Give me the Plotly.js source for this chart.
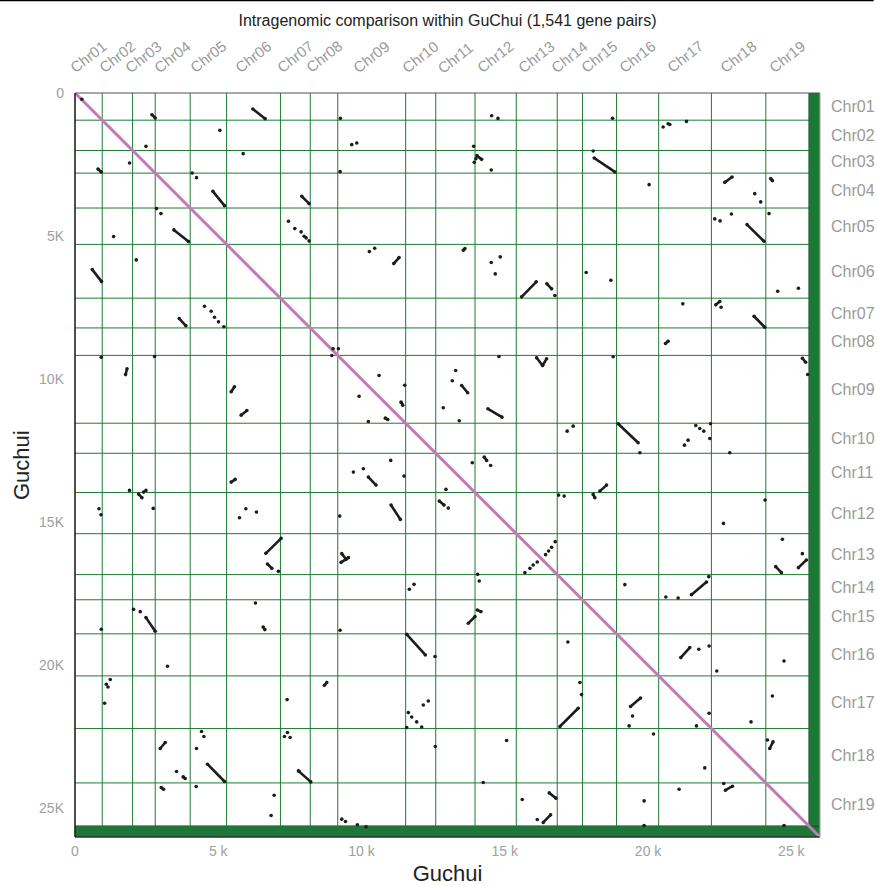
<!DOCTYPE html>
<html><head><meta charset="utf-8">
<script src="https://cdn.plot.ly/plotly-3.0.1.min.js"></script>
<style>html,body{margin:0;padding:0;background:#fff}#chart{width:877px;height:886px}</style>
</head><body><div id="chart"></div>
<script>
// Chromosome names and boundaries (gene index)
const chromNames = ["Chr01","Chr02","Chr03","Chr04","Chr05","Chr06","Chr07","Chr08","Chr09","Chr10","Chr11","Chr12","Chr13","Chr14","Chr15","Chr16","Chr17","Chr18","Chr19"];
const chromBounds = [0,950,2010,2800,4020,5290,7170,8210,9170,11540,12590,13960,15400,16830,17710,18900,20370,22210,24110,25620];
const axisMax = 26000;

// Tick labels
const xTickVals = [0,5000,10000,15000,20000,25000];
const xTickText = ["0","5 k","10 k","15 k","20 k","25 k"];
const yTickVals = [0,5000,10000,15000,20000,25000];
const yTickText = ["0","5K","10K","15K","20K","25K"];

// Syntenic blocks (start/end of collinear runs)
const segX0 = [2685,6207,802,4812,3452,603,3637,1765,7915,11124,14028,13551,15587,16469,16109,16318,18119,22676,24280,23454,22362,23698,20608,25385,5450,5799,2218,5450,6660,6716,6566,2476,11378,10831,13495,14412,10238,14283,12714,11029,18084,18317,9286,9310,13725,14039,18956,24455,25246,21515,2974,4624,3776,3009,11577,8704,7797,16550,16341,16922,21141,19388,24360,22700];
const segY0 = [758,559,2654,3436,4784,6171,7882,9840,3611,5961,2190,5496,7124,6670,9254,9523,2270,3122,2993,4599,7403,7801,8754,9268,10441,11258,14017,13598,16088,16461,18661,18333,10804,11363,10221,11035,13423,12725,14261,14401,14028,13912,16402,16098,18532,18067,11559,16552,16587,17530,22908,23456,23899,24270,18916,20697,23690,24458,25491,22140,19730,21440,22677,24364];
const segX1 = [2800,6636,917,5217,3961,928,3871,1815,8170,11309,14192,13610,16097,16633,16318,16458,18841,22931,24339,24046,22502,24071,20699,25500,5565,5998,2336,5590,7194,6870,6625,2800,11437,10915,13704,14900,10506,14367,12878,11354,18143,18551,9541,9460,13959,14168,19653,24653,25525,22038,3149,5217,3846,3090,12226,8787,8229,16783,16598,17561,21455,19736,24245,22945];
const segY1 = [873,897,2759,3936,5193,6590,8136,9640,3866,5752,2319,5437,6600,6845,9523,9289,2759,2933,3063,5182,7288,8185,8674,9408,10266,11094,14143,13504,15564,16611,18752,18812,10909,11408,10476,11328,13703,12840,14401,14901,14143,13703,16238,16297,18298,18123,12222,16762,16322,17091,22698,24060,23955,24329,19639,20603,24074,24643,25226,21501,19381,21140,22908,24224];

// Isolated gene pairs
const dotX = [240,5056,2476,5869,1904,4090,4240,2845,3000,7449,7671,7891,7996,8066,8170,1346,2138,4519,4753,4868,5008,5196,917,2776,9262,9659,9833,9251,10273,10460,14541,14761,13913,13934,13990,14527,14527,14841,14666,16748,9008,9192,8962,14796,10611,13285,18760,20525,20700,20758,21340,18084,20036,23722,23931,24221,22327,22513,22909,17840,18701,24524,25246,21212,22548,18781,25570,1904,2392,2476,2730,837,907,5740,5963,6333,7100,6298,917,2043,2277,11507,9914,10238,13167,12853,13411,17177,17386,11019,9715,10064,11483,13864,14506,12947,13027,9240,16877,17072,15702,15876,15991,16132,16423,16528,16633,16759,11668,11832,14052,14109,9251,19713,22177,21270,21396,22851,24082,22630,24688,25385,19189,20620,21048,22118,21665,21804,21944,22153,3229,1231,1091,1151,1032,7403,4415,4498,4240,3543,4230,6950,6845,7309,7414,7507,7821,12564,17202,12156,12330,11633,11751,11925,12100,11577,12574,15064,14248,15608,16132,9310,9440,9854,10158,17679,17620,21770,22129,24744,22397,19457,19339,22129,21689,23593,24339,20190,24165,21978,22641,21083,19862,19862,24744];
const dotY = [220,1306,1865,2120,2445,2794,2958,4040,4215,4484,4739,4854,5008,5063,5169,5018,5832,7452,7627,7836,7997,8171,9233,9208,886,1805,1746,2748,5542,5427,793,887,1865,2424,2300,2689,5926,5727,6321,7078,8940,8940,9174,9208,9872,9697,886,1187,1072,1100,992,2025,3202,3517,3806,4215,4400,4470,4226,6275,6544,6928,6823,7368,7487,9219,9837,13888,13947,13888,14517,14527,14737,14841,14527,14646,16716,17823,18741,18044,18124,10211,10595,11478,10057,11000,11454,11817,11643,12840,13248,13130,13388,12920,13015,13853,14506,14785,14052,14087,16762,16611,16496,16391,16133,16007,15878,15679,17344,17170,16822,17055,18776,12571,11559,12306,12131,12571,14226,15040,15599,16098,17181,17614,17649,16901,11618,11723,11817,12072,20034,20497,20662,20757,21326,21198,22314,22488,22908,23710,24235,24539,25248,22488,22349,22524,23700,19694,19185,21385,21245,21653,21804,21978,22156,22175,22838,22629,24095,24688,25387,25376,25460,25574,25640,21023,20603,19440,19325,19848,20197,21769,22118,21675,22118,21978,21071,22398,22608,23585,24130,24329,24738,25600,25600];

// ---------- build ----------
const FONT = "Liberation Sans, Arial, Helvetica, sans-serif";
const gridColor = "#1f7a35";
const bandColor = "#1b7836";
const limit = chromBounds[chromBounds.length-1];

const sx = [], sy = [];
for (let i = 0; i < segX0.length; i++) {
  sx.push(segX0[i], segX1[i], null);
  sy.push(segY0[i], segY1[i], null);
}
const ex = [], ey = [];
for (let i = 0; i < segX0.length; i++) { ex.push(segX0[i], segX1[i]); ey.push(segY0[i], segY1[i]); }

const traces = [
  {x:[0,axisMax], y:[0,axisMax], mode:"lines", line:{color:"#c27bb7", width:3}, hoverinfo:"skip", showlegend:false},
  {x:sx, y:sy, mode:"lines", line:{color:"#1c1c1c", width:2.6}, hoverinfo:"skip", showlegend:false, connectgaps:false},
  {x:ex.concat(dotX), y:ey.concat(dotY), mode:"markers", marker:{color:"#1c1c1c", size:3.6}, hoverinfo:"skip", showlegend:false}
];

const shapes = [];
// green side bands
shapes.push({type:"rect", xref:"x", yref:"y", x0:limit, x1:axisMax, y0:0, y1:axisMax, fillcolor:bandColor, line:{color:"#2b3b2e", width:1}, layer:"below"});
shapes.push({type:"rect", xref:"x", yref:"y", x0:0, x1:axisMax, y0:limit, y1:axisMax, fillcolor:bandColor, line:{color:"#2b3b2e", width:1}, layer:"below"});
// chromosome boundaries
for (let i = 1; i < chromBounds.length; i++) {
  const b = chromBounds[i];
  shapes.push({type:"line", xref:"x", yref:"y", x0:b, x1:b, y0:0, y1:limit, line:{color:gridColor, width:1}, layer:"below"});
  shapes.push({type:"line", xref:"x", yref:"y", x0:0, x1:limit, y0:b, y1:b, line:{color:gridColor, width:1}, layer:"below"});
}
// frame
shapes.push({type:"line", xref:"paper", yref:"paper", x0:0, x1:0, y0:0, y1:1, line:{color:"#222", width:1.6}});
shapes.push({type:"line", xref:"paper", yref:"paper", x0:0, x1:1, y0:1, y1:1, line:{color:"#555", width:1.2}});
shapes.push({type:"line", xref:"paper", yref:"paper", x0:0, x1:1, y0:0, y1:0, line:{color:"#333", width:1.6}});
shapes.push({type:"line", xref:"paper", yref:"paper", x0:1, x1:1, y0:0, y1:1, line:{color:"#aaa", width:1.2}});
// top page rule
shapes.push({type:"line", xref:"paper", yref:"paper", x0:-0.101, x1:1.072, y0:1.1243, y1:1.1243, line:{color:"#000", width:1.5}});

const annotations = [];
for (let i = 0; i < chromNames.length; i++) {
  const mid = (chromBounds[i] + chromBounds[i+1]) / 2;
  annotations.push({x:mid, xref:"x", y:1, yref:"paper", yanchor:"bottom", xanchor:"center", yshift:14,
    text:chromNames[i], textangle:-38, showarrow:false, font:{family:FONT, size:15, color:"#9a9a9a"}});
  annotations.push({x:1, xref:"paper", y:mid, yref:"y", xanchor:"left", yanchor:"middle", xshift:9,
    text:chromNames[i], showarrow:false, font:{family:FONT, size:16, color:"#9a9a9a"}});
}
// y-axis title
annotations.push({x:-0.0725, xref:"paper", y:0.5, yref:"paper", xanchor:"center", yanchor:"middle",
  text:"Guchui", textangle:-90, showarrow:false, font:{family:FONT, size:22, color:"#222"}});

const layout = {
  width:877, height:886,
  margin:{l:75, r:57, t:93, b:49, pad:0},
  paper_bgcolor:"#fff", plot_bgcolor:"#fff",
  font:{family:FONT},
  title:{text:"Intragenomic comparison within GuChui (1,541 gene pairs)", font:{family:FONT, size:16, color:"#222"}, x:0.5, xref:"paper", xanchor:"center", y:0.977, yref:"container", yanchor:"middle"},
  xaxis:{range:[0,axisMax], showgrid:false, zeroline:false, showline:false, ticks:"", tickvals:xTickVals, ticktext:xTickText,
    tickfont:{family:FONT, size:14, color:"#a0a0a0"}, ticklabelstandoff:4,
    title:{text:"Guchui", font:{family:FONT, size:22, color:"#222"}, standoff:9}},
  yaxis:{range:[axisMax,0], showgrid:false, zeroline:false, showline:false, ticks:"", tickvals:yTickVals, ticktext:yTickText,
    tickfont:{family:FONT, size:14, color:"#a0a0a0"}, ticklabelstandoff:10},
  shapes:shapes, annotations:annotations, showlegend:false
};
Plotly.newPlot("chart", traces, layout, {staticPlot:true, displayModeBar:false});
</script></body></html>
